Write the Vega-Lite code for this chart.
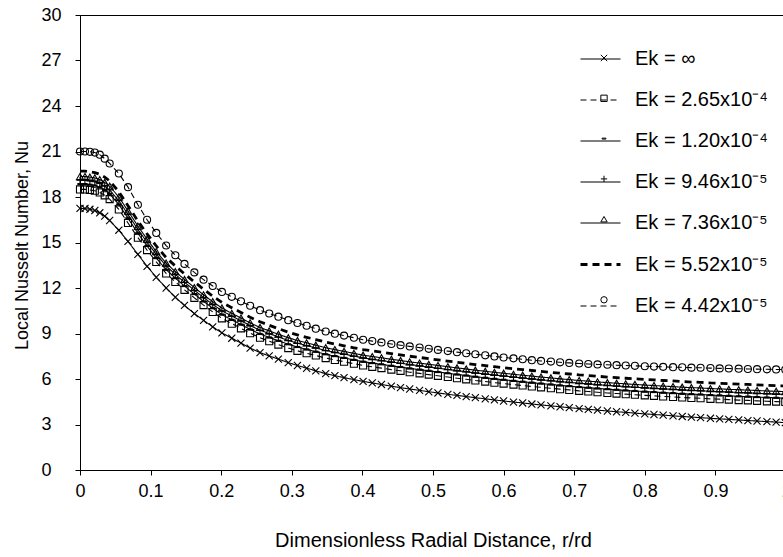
{
  "$schema": "https://vega.github.io/schema/vega-lite/v6.json",
  "width": 706,
  "height": 455,
  "autosize": {"type": "none"},
  "padding": {"left": 80, "top": 15, "right": 0, "bottom": 87},
  "config": {
    "font": "Liberation Sans",
    "view": {"stroke": "black", "strokeWidth": 1},
    "axis": {
      "domainColor": "black", "tickColor": "black", "labelColor": "black", "titleColor": "black",
      "grid": false, "labelFont": "Liberation Sans", "titleFont": "Liberation Sans",
      "titleFontWeight": "normal", "labelFontSize": 18, "titleFontSize": 18, "tickSize": 5
    }
  },
  "data": {"values": [
    {"x":0,"a":17.25,"b":18.5,"c":18.85,"d":19.1,"e":19.35,"f":19.7,"g":21.0},
    {"x":0.007,"a":17.24,"b":18.5,"c":18.85,"d":19.1,"e":19.35,"f":19.7,"g":21.0},
    {"x":0.014,"a":17.19,"b":18.46,"c":18.81,"d":19.06,"e":19.31,"f":19.66,"g":20.98},
    {"x":0.021,"a":17.11,"b":18.41,"c":18.76,"d":19.01,"e":19.26,"f":19.61,"g":20.93},
    {"x":0.028,"a":16.96,"b":18.3,"c":18.65,"d":18.9,"e":19.15,"f":19.5,"g":20.79},
    {"x":0.035,"a":16.74,"b":18.11,"c":18.46,"d":18.71,"e":18.96,"f":19.31,"g":20.53},
    {"x":0.042,"a":16.45,"b":17.86,"c":18.21,"d":18.46,"e":18.71,"f":19.06,"g":20.21},
    {"x":0.055,"a":15.81,"b":17.18,"c":17.51,"d":17.76,"e":18.0,"f":18.35,"g":19.55},
    {"x":0.068,"a":15.07,"b":16.29,"c":16.6,"d":16.85,"e":17.08,"f":17.43,"g":18.65},
    {"x":0.082,"a":14.22,"b":15.32,"c":15.61,"d":15.86,"e":16.08,"f":16.42,"g":17.49},
    {"x":0.095,"a":13.43,"b":14.5,"c":14.77,"d":15.02,"e":15.22,"f":15.57,"g":16.5},
    {"x":0.108,"a":12.71,"b":13.72,"c":13.97,"d":14.22,"e":14.4,"f":14.77,"g":15.63},
    {"x":0.122,"a":12.0,"b":12.96,"c":13.21,"d":13.46,"e":13.64,"f":14.01,"g":14.8},
    {"x":0.135,"a":11.39,"b":12.4,"c":12.65,"d":12.9,"e":13.08,"f":13.45,"g":14.16},
    {"x":0.148,"a":10.85,"b":11.88,"c":12.13,"d":12.38,"e":12.56,"f":12.93,"g":13.59},
    {"x":0.162,"a":10.31,"b":11.35,"c":11.6,"d":11.85,"e":12.03,"f":12.4,"g":13.03},
    {"x":0.175,"a":9.87,"b":10.87,"c":11.12,"d":11.37,"e":11.55,"f":11.92,"g":12.55},
    {"x":0.188,"a":9.44,"b":10.42,"c":10.67,"d":10.92,"e":11.1,"f":11.47,"g":12.13},
    {"x":0.201,"a":9.04,"b":10.0,"c":10.25,"d":10.5,"e":10.68,"f":11.05,"g":11.74},
    {"x":0.215,"a":8.69,"b":9.65,"c":9.9,"d":10.15,"e":10.33,"f":10.7,"g":11.42},
    {"x":0.228,"a":8.37,"b":9.34,"c":9.59,"d":9.84,"e":10.02,"f":10.39,"g":11.12},
    {"x":0.241,"a":8.04,"b":9.02,"c":9.27,"d":9.52,"e":9.7,"f":10.07,"g":10.83},
    {"x":0.255,"a":7.74,"b":8.72,"c":8.97,"d":9.22,"e":9.4,"f":9.77,"g":10.54},
    {"x":0.268,"a":7.52,"b":8.49,"c":8.74,"d":8.99,"e":9.17,"f":9.54,"g":10.32},
    {"x":0.281,"a":7.31,"b":8.27,"c":8.52,"d":8.77,"e":8.95,"f":9.32,"g":10.11},
    {"x":0.295,"a":7.08,"b":8.04,"c":8.29,"d":8.54,"e":8.72,"f":9.09,"g":9.88},
    {"x":0.308,"a":6.89,"b":7.86,"c":8.11,"d":8.36,"e":8.54,"f":8.91,"g":9.69},
    {"x":0.321,"a":6.71,"b":7.7,"c":7.95,"d":8.2,"e":8.38,"f":8.75,"g":9.51},
    {"x":0.334,"a":6.54,"b":7.55,"c":7.8,"d":8.05,"e":8.23,"f":8.6,"g":9.32},
    {"x":0.348,"a":6.35,"b":7.38,"c":7.63,"d":7.88,"e":8.06,"f":8.43,"g":9.13},
    {"x":0.361,"a":6.22,"b":7.26,"c":7.51,"d":7.76,"e":7.94,"f":8.31,"g":8.99},
    {"x":0.374,"a":6.09,"b":7.14,"c":7.39,"d":7.64,"e":7.82,"f":8.19,"g":8.86},
    {"x":0.388,"a":5.96,"b":7.01,"c":7.26,"d":7.51,"e":7.69,"f":8.06,"g":8.72},
    {"x":0.401,"a":5.84,"b":6.89,"c":7.14,"d":7.39,"e":7.57,"f":7.94,"g":8.59},
    {"x":0.414,"a":5.74,"b":6.8,"c":7.05,"d":7.3,"e":7.48,"f":7.85,"g":8.5},
    {"x":0.427,"a":5.64,"b":6.72,"c":6.97,"d":7.22,"e":7.4,"f":7.77,"g":8.41},
    {"x":0.441,"a":5.53,"b":6.62,"c":6.87,"d":7.12,"e":7.3,"f":7.67,"g":8.31},
    {"x":0.454,"a":5.43,"b":6.54,"c":6.79,"d":7.04,"e":7.22,"f":7.59,"g":8.23},
    {"x":0.467,"a":5.34,"b":6.45,"c":6.7,"d":6.95,"e":7.13,"f":7.5,"g":8.15},
    {"x":0.481,"a":5.25,"b":6.37,"c":6.62,"d":6.87,"e":7.05,"f":7.42,"g":8.07},
    {"x":0.494,"a":5.16,"b":6.29,"c":6.54,"d":6.79,"e":6.97,"f":7.34,"g":7.99},
    {"x":0.507,"a":5.08,"b":6.21,"c":6.46,"d":6.71,"e":6.89,"f":7.26,"g":7.92},
    {"x":0.521,"a":4.99,"b":6.13,"c":6.38,"d":6.63,"e":6.81,"f":7.18,"g":7.84},
    {"x":0.534,"a":4.92,"b":6.05,"c":6.3,"d":6.55,"e":6.73,"f":7.1,"g":7.77},
    {"x":0.547,"a":4.84,"b":5.98,"c":6.23,"d":6.48,"e":6.66,"f":7.03,"g":7.7},
    {"x":0.56,"a":4.77,"b":5.9,"c":6.15,"d":6.4,"e":6.58,"f":6.95,"g":7.63},
    {"x":0.574,"a":4.69,"b":5.83,"c":6.08,"d":6.33,"e":6.51,"f":6.88,"g":7.56},
    {"x":0.587,"a":4.62,"b":5.76,"c":6.01,"d":6.26,"e":6.44,"f":6.81,"g":7.49},
    {"x":0.6,"a":4.55,"b":5.7,"c":5.95,"d":6.2,"e":6.38,"f":6.75,"g":7.42},
    {"x":0.614,"a":4.48,"b":5.63,"c":5.88,"d":6.13,"e":6.31,"f":6.68,"g":7.36},
    {"x":0.627,"a":4.42,"b":5.57,"c":5.82,"d":6.07,"e":6.25,"f":6.62,"g":7.3},
    {"x":0.64,"a":4.35,"b":5.51,"c":5.76,"d":6.01,"e":6.19,"f":6.56,"g":7.24},
    {"x":0.653,"a":4.29,"b":5.45,"c":5.7,"d":5.95,"e":6.13,"f":6.5,"g":7.19},
    {"x":0.667,"a":4.23,"b":5.39,"c":5.64,"d":5.89,"e":6.07,"f":6.44,"g":7.15},
    {"x":0.68,"a":4.17,"b":5.33,"c":5.58,"d":5.83,"e":6.01,"f":6.38,"g":7.1},
    {"x":0.693,"a":4.11,"b":5.28,"c":5.53,"d":5.78,"e":5.96,"f":6.33,"g":7.06},
    {"x":0.707,"a":4.05,"b":5.22,"c":5.47,"d":5.72,"e":5.9,"f":6.27,"g":7.02},
    {"x":0.72,"a":4.0,"b":5.18,"c":5.43,"d":5.68,"e":5.86,"f":6.23,"g":6.99},
    {"x":0.733,"a":3.95,"b":5.13,"c":5.38,"d":5.63,"e":5.81,"f":6.18,"g":6.96},
    {"x":0.747,"a":3.89,"b":5.08,"c":5.33,"d":5.58,"e":5.76,"f":6.13,"g":6.94},
    {"x":0.76,"a":3.84,"b":5.04,"c":5.29,"d":5.54,"e":5.72,"f":6.09,"g":6.91},
    {"x":0.773,"a":3.8,"b":5.0,"c":5.25,"d":5.5,"e":5.68,"f":6.05,"g":6.89},
    {"x":0.786,"a":3.75,"b":4.96,"c":5.21,"d":5.46,"e":5.64,"f":6.01,"g":6.87},
    {"x":0.8,"a":3.7,"b":4.92,"c":5.17,"d":5.42,"e":5.6,"f":5.97,"g":6.84},
    {"x":0.813,"a":3.66,"b":4.89,"c":5.14,"d":5.39,"e":5.57,"f":5.94,"g":6.82},
    {"x":0.826,"a":3.62,"b":4.85,"c":5.1,"d":5.35,"e":5.53,"f":5.9,"g":6.8},
    {"x":0.84,"a":3.57,"b":4.82,"c":5.07,"d":5.32,"e":5.5,"f":5.87,"g":6.78},
    {"x":0.853,"a":3.53,"b":4.78,"c":5.03,"d":5.28,"e":5.46,"f":5.83,"g":6.77},
    {"x":0.866,"a":3.49,"b":4.75,"c":5.0,"d":5.25,"e":5.43,"f":5.8,"g":6.75},
    {"x":0.879,"a":3.45,"b":4.73,"c":4.98,"d":5.23,"e":5.41,"f":5.78,"g":6.74},
    {"x":0.893,"a":3.41,"b":4.69,"c":4.94,"d":5.19,"e":5.37,"f":5.74,"g":6.72},
    {"x":0.906,"a":3.37,"b":4.67,"c":4.92,"d":5.17,"e":5.35,"f":5.72,"g":6.7},
    {"x":0.919,"a":3.34,"b":4.64,"c":4.89,"d":5.14,"e":5.32,"f":5.69,"g":6.69},
    {"x":0.933,"a":3.3,"b":4.61,"c":4.86,"d":5.11,"e":5.29,"f":5.66,"g":6.68},
    {"x":0.946,"a":3.26,"b":4.59,"c":4.84,"d":5.09,"e":5.27,"f":5.64,"g":6.66},
    {"x":0.959,"a":3.23,"b":4.56,"c":4.81,"d":5.06,"e":5.24,"f":5.61,"g":6.65},
    {"x":0.973,"a":3.19,"b":4.53,"c":4.78,"d":5.03,"e":5.21,"f":5.58,"g":6.64},
    {"x":0.986,"a":3.16,"b":4.51,"c":4.76,"d":5.01,"e":5.19,"f":5.56,"g":6.63},
    {"x":0.999,"a":3.12,"b":4.49,"c":4.74,"d":4.99,"e":5.17,"f":5.54,"g":6.62}
  ]},
  "transform": [{"fold": ["a", "b", "c", "d", "e", "f", "g"], "as": ["series", "value"]}],
  "encoding": {
    "x": {
      "field": "x", "type": "quantitative",
      "scale": {"domain": [0, 1], "nice": false},
      "axis": {
        "values": [0, 0.1, 0.2, 0.3, 0.4, 0.5, 0.6, 0.7, 0.8, 0.9, 1],
        "format": "~g", "labelPadding": 7, "labelFlush": false, "labelOverlap": false,
        "title": "Dimensionless Radial Distance, r/rd", "titleFontSize": 20,
        "titleY": 70, "titleBaseline": "middle"
      }
    },
    "y": {
      "field": "value", "type": "quantitative",
      "scale": {"domain": [0, 30], "nice": false},
      "axis": {
        "values": [0, 3, 6, 9, 12, 15, 18, 21, 24, 27, 30],
        "labelAlign": "left", "labelPadding": 34, "labelBaseline": "middle",
        "labelFlush": false, "labelOverlap": false,
        "title": "Local Nusselt Number, Nu",
        "titleX": -58, "titleY": 230, "titleAngle": -90,
        "titleAlign": "center", "titleBaseline": "middle"
      }
    }
  },
  "layer": [
    {
      "mark": {"type": "line", "color": "black"},
      "encoding": {
        "strokeDash": {
          "field": "series", "type": "nominal",
          "scale": {"domain": ["a", "b", "c", "d", "e", "f", "g"],
                    "range": [[1, 0], [6, 4], [1, 0], [1, 0], [1, 0], [7, 5], [6, 4]]},
          "legend": {
            "title": null, "orient": "none", "legendX": 499, "legendY": 23, "padding": 0,
            "symbolType": "stroke", "symbolSize": 1600, "symbolStrokeColor": "black",
            "labelFontSize": 20, "labelFont": "Liberation Sans", "labelColor": "black",
            "labelOffset": 13, "rowPadding": 10,
            "labelExpr": "datum.label == 'a' ? 'Ek = ∞' : datum.label == 'b' ? 'Ek = 2.65x10⁻⁴' : datum.label == 'c' ? 'Ek = 1.20x10⁻⁴' : datum.label == 'd' ? 'Ek = 9.46x10⁻⁵' : datum.label == 'e' ? 'Ek = 7.36x10⁻⁵' : datum.label == 'f' ? 'Ek = 5.52x10⁻⁵' : 'Ek = 4.42x10⁻⁵'"
          }
        },
        "strokeWidth": {
          "field": "series", "type": "nominal",
          "scale": {"type": "ordinal", "domain": ["a", "b", "c", "d", "e", "f", "g"],
                    "range": [1.1, 1.1, 1.1, 1.1, 1.1, 2.8, 1.1]},
          "legend": {
            "title": null, "orient": "none", "legendX": 499, "legendY": 23, "padding": 0,
            "symbolType": "stroke", "symbolSize": 1600, "symbolStrokeColor": "black",
            "labelFontSize": 20, "labelFont": "Liberation Sans", "labelColor": "black",
            "labelOffset": 13, "rowPadding": 10,
            "labelExpr": "datum.label == 'a' ? 'Ek = ∞' : datum.label == 'b' ? 'Ek = 2.65x10⁻⁴' : datum.label == 'c' ? 'Ek = 1.20x10⁻⁴' : datum.label == 'd' ? 'Ek = 9.46x10⁻⁵' : datum.label == 'e' ? 'Ek = 7.36x10⁻⁵' : datum.label == 'f' ? 'Ek = 5.52x10⁻⁵' : 'Ek = 4.42x10⁻⁵'"
          }
        }
      }
    },
    {
      "mark": {"type": "point", "filled": false, "color": "black", "strokeWidth": 1.1, "opacity": 1, "size": 50},
      "encoding": {
        "shape": {
          "field": "series", "type": "nominal",
          "scale": {"range": [
            "M-1,-1L1,1M-1,1L1,-1",
            "square",
            "M-0.6,-0.15H0.6V0.15H-0.6Z",
            "M-1,0H1M0,-1V1",
            "triangle-up",
            "M0,0Z",
            "circle"
          ]},
          "legend": {
            "title": null, "orient": "none", "legendX": 515, "legendY": 34, "padding": 0,
            "symbolSize": 40, "symbolStrokeColor": "black", "symbolStrokeWidth": 1,
            "labelOpacity": 0, "labelFontSize": 18, "rowPadding": 22.3
          }
        }
      }
    }
  ]
}
